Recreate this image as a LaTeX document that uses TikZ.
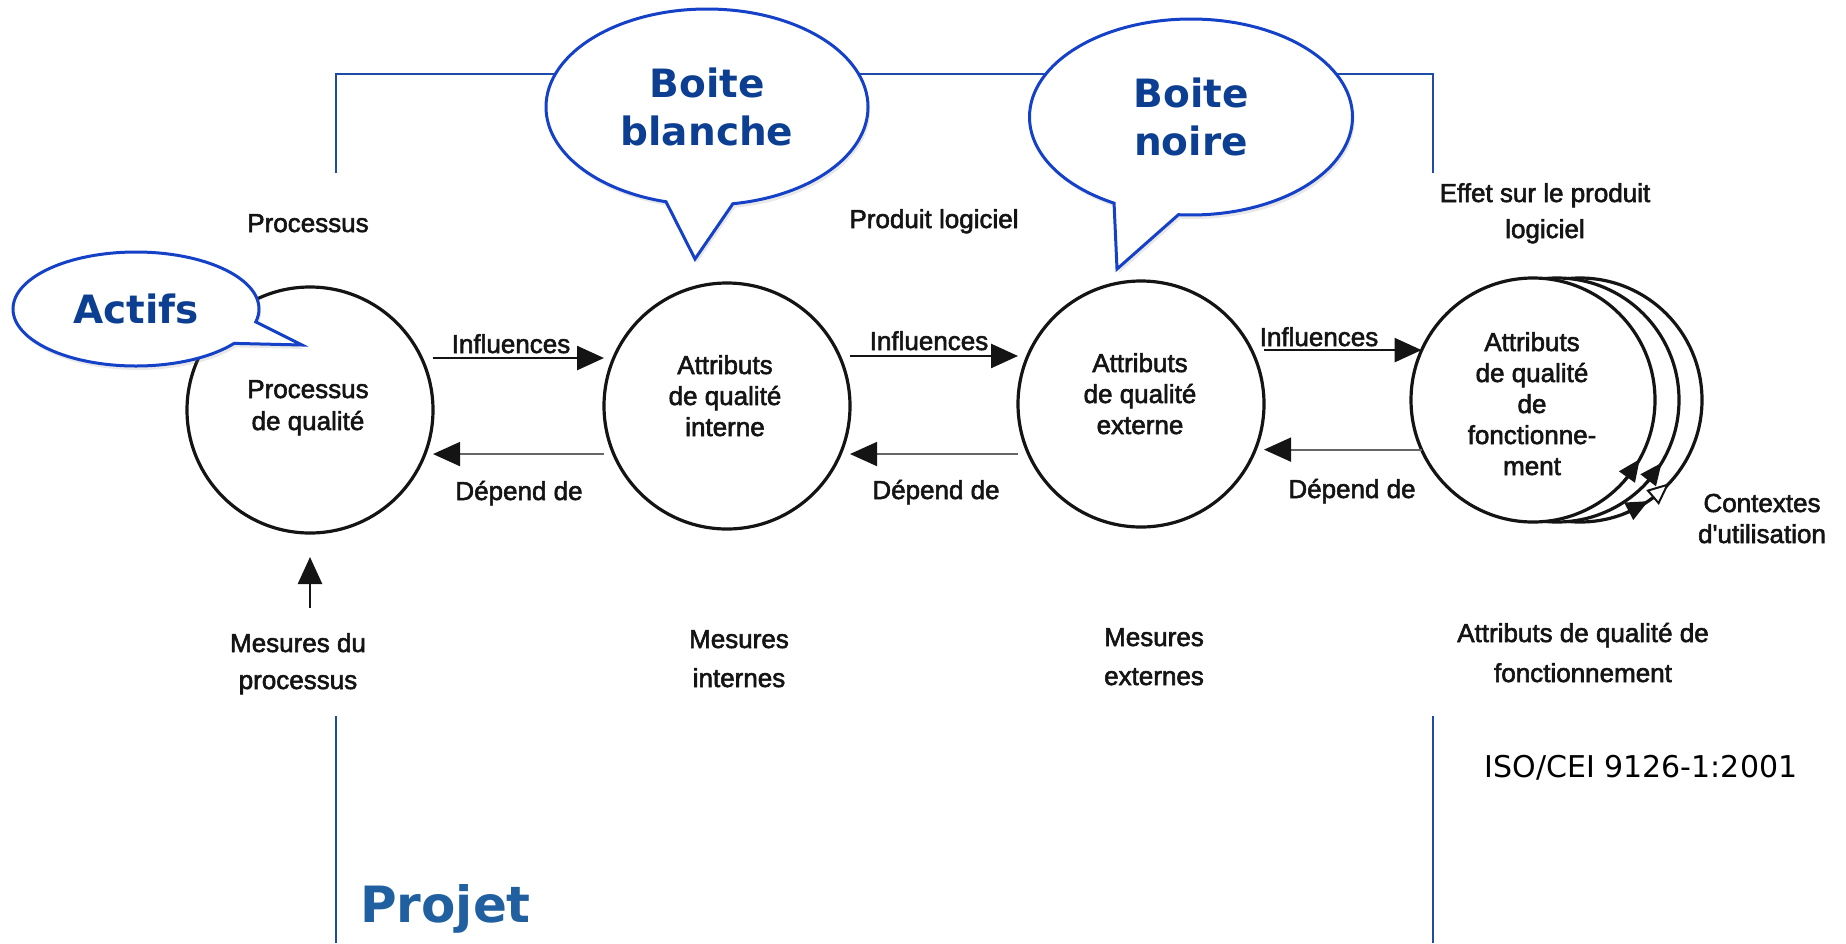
\documentclass[tikz,border=0pt]{standalone}
\usepackage{fontspec}
\setmainfont{Liberation Sans}
\newfontfamily\scanfont[FakeBold=2.2]{Liberation Sans}
\newfontfamily\calloutfont{DejaVu Sans}
\usetikzlibrary{shapes.callouts,shapes.geometric,arrows.meta,shadows}

\definecolor{frameblue}{RGB}{30,75,165}
\definecolor{bubbleline}{RGB}{20,65,200}
\definecolor{bubbletext}{RGB}{12,62,145}
\definecolor{projblue}{RGB}{32,96,160}
\definecolor{ink}{RGB}{20,20,20}

\tikzset{
  scan/.style={font=\scanfont\fontsize{26}{31}\selectfont, text=ink, inner sep=0pt, align=center},
  attr/.style={circle, draw=ink, line width=3.2pt, fill=white, minimum size=246pt, inner sep=0pt, outer sep=0pt},
  influence/.style={draw=ink, line width=2.6pt, -{Triangle[length=27pt,width=24pt]}},
  depend/.style={draw=ink!65, line width=1.8pt, -{Triangle[length=27pt,width=24pt,color=ink]}},
  ctxtip/.style={draw=ink, line width=2.5pt, -{Triangle[length=22pt,width=19pt]}},
  ctxopen/.style={draw=ink, line width=2pt, -{Triangle[open,length=22pt,width=19pt,fill=white]}},
  bubble/.style={ellipse callout, draw=bubbleline, line width=3pt, fill=white, inner sep=0pt,
    callout pointer arc=24, text=bubbletext,
    font=\calloutfont\bfseries\fontsize{39}{48}\selectfont, align=center,
    drop shadow={shadow xshift=2pt, shadow yshift=-4pt, opacity=0.18}},
  frame/.style={draw=frameblue, line width=2.6pt},
}

\begin{document}
\begin{tikzpicture}[x=1pt, y=-1pt]
\useasboundingbox (0,0) rectangle (1846,943);

% project frame
\coordinate (fl1) at (336,173);
\coordinate (fl2) at (336,74);
\coordinate (fr2) at (1433,74);
\coordinate (fr1) at (1433,173);
\coordinate (fl3) at (336,716);
\coordinate (fl4) at (336,943);
\coordinate (fr3) at (1433,716);
\coordinate (fr4) at (1433,943);
\draw[frame] (fl1) -- (fl2) -- (fr2) -- (fr1);
\draw[frame] (fl3) -- (fl4);
\draw[frame] (fr3) -- (fr4);

% quality circles
\node[attr] (c1) at (310,410) {};
\node[attr] (c2) at (727,406) {};
\node[attr] (c3) at (1141,404) {};
\node[attr, minimum size=244pt] (c4c) at (1580,400) {};
\node[attr, minimum size=244pt] (c4b) at (1557,400) {};
\node[attr, minimum size=244pt] (c4) at (1533,400) {};

% circle contents (multi-line nodes sit on their last baseline)
\node[scan, font=\scanfont\fontsize{26}{32}\selectfont, anchor=base] (t1) at (308,430) {Processus\\de qualité};
\node[scan, anchor=base] (t2) at (725,436) {Attributs\\de qualité\\interne};
\node[scan, anchor=base] (t3) at (1140,434) {Attributs\\de qualité\\externe};
\node[scan, anchor=base] (t4) at (1532,475) {Attributs\\de qualité\\de\\fonctionne-\\ment};

% influence arrows
\draw[influence] (c1.east |- c1.25) -- (c1.25 -| c2.west);
\draw[influence] (c2.east |- c2.24) -- (c2.24 -| c3.west);
\draw[influence] (c3.east |- c3.26) -- (c3.26 -| c4.156);
\node[scan, anchor=base] (i1) at (511,353) {Influences};
\node[scan, anchor=base] (i2) at (929,350) {Influences};
\node[scan, anchor=base] (i3) at (1319,346) {Influences};

% dependency arrows
\draw[depend] (c2.west |- c2.203) -- (c2.203 -| c1.east);
\draw[depend] (c3.west |- c3.204) -- (c3.204 -| c2.east);
\draw[depend] (c4.204) -- (c4.204 -| c3.east);
\node[scan, anchor=base] (d1) at (519,500) {Dépend de};
\node[scan, anchor=base] (d2) at (936,499) {Dépend de};
\node[scan, anchor=base] (d3) at (1352,498) {Dépend de};

% contexts of use
\draw[ctxtip] (c4.-42) -- (c4.-29);
\draw[ctxtip] (c4b.-44) -- (c4b.-31);
\draw[ctxtip] (c4c.-69) -- (c4c.-56);
\draw[ctxopen] (c4c.-56) -- (c4c.-43);
\node[scan, anchor=base] (ctx) at (1762,543) {Contextes\\d'utilisation};

% headings
\node[scan, anchor=base] (hp) at (308,232) {Processus};
\node[scan, anchor=base] (hl) at (934,228) {Produit logiciel};
\node[scan, font=\scanfont\fontsize{26}{36}\selectfont, anchor=base] (he) at (1545,238) {Effet sur le produit\\logiciel};

% measures
\node[scan, font=\scanfont\fontsize{26}{37}\selectfont, anchor=base] (mp) at (298,689) {Mesures du\\processus};
\node[scan, font=\scanfont\fontsize{26}{39}\selectfont, anchor=base] (mi) at (739,687) {Mesures\\internes};
\node[scan, font=\scanfont\fontsize{26}{39}\selectfont, anchor=base] (me) at (1154,685) {Mesures\\externes};
\node[scan, font=\scanfont\fontsize{26}{40}\selectfont, anchor=base] (mf) at (1583,682) {Attributs de qualité de\\fonctionnement};
\draw[influence, shorten <=25pt, shorten >=24pt] (c1.south |- mp.north) -- (c1.south);

% source and project label
\node[font=\calloutfont\fontsize{30}{36}\selectfont, anchor=base, inner sep=0pt] (iso) at (1641,777) {ISO/CEI 9126-1:2001};
\node[font=\calloutfont\bfseries\fontsize{50}{60}\selectfont, text=projblue, anchor=base west, inner sep=0pt] (proj) at (360,922) {Projet};

% callouts
\node[bubble, minimum width=246pt, minimum height=114pt, callout absolute pointer={(302,345)}] (actifs) at (136,309) {Actifs};
\node[bubble, minimum width=322pt, minimum height=196pt, callout absolute pointer={(695,259)}] (blanche) at (707,107) {Boite\\blanche};
\node[bubble, minimum width=323pt, minimum height=196pt, callout absolute pointer={(1117,269)}] (noire) at (1191,117) {Boite\\noire};
\end{tikzpicture}
\end{document}
